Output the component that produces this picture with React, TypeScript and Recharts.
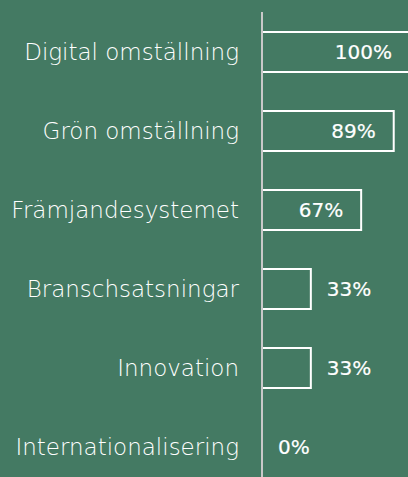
import { Bar, BarChart, Cell, LabelList, XAxis, YAxis } from "recharts";

const categories = [
  "Digital omställning",
  "Grön omställning",
  "Främjandesystemet",
  "Branschsatsningar",
  "Innovation",
  "Internationalisering",
];
const shares = [100, 89, 67, 33, 33, 0];

const data = categories.map((name, i) => ({ name, value: shares[i] }));

const BG = "#447a63";
const FONT = "'DejaVu Sans', sans-serif";

const ValueLabel = (props: any) => {
  const { x, y, width, height, value } = props;
  const inside = value >= 50;
  const w = value > 0 ? width : 0;
  return (
    <text
      x={inside ? x + w - 18 : x + w + 16}
      y={y + height / 2}
      dy="0.36em"
      textAnchor={inside ? "end" : "start"}
      fill="#ffffff"
      stroke="#ffffff"
      strokeWidth={0.2}
      fontFamily={FONT}
      fontSize={20}
    >
      {value}%
    </text>
  );
};

export default function App() {
  return (
    <div
      style={{
        position: "fixed",
        top: 0,
        left: 0,
        width: 408,
        height: 477,
        overflow: "hidden",
        background: BG,
      }}
    >
      <BarChart
        width={410}
        height={490}
        data={data}
        layout="vertical"
        margin={{ top: 12, right: 0, bottom: 4, left: 0 }}
        barCategoryGap={19}
      >
        <XAxis type="number" domain={[0, 100]} hide />
        <YAxis
          type="category"
          dataKey="name"
          width={262}
          axisLine={{ stroke: "#c9c9c9", strokeWidth: 2 }}
          tickLine={false}
          tickSize={0}
          tickMargin={23}
          tick={{
            fill: "#ffffff",
            fontSize: 23,
            fontFamily: FONT,
            fontWeight: 200,
          }}
        />
        <Bar
          dataKey="value"
          fill="none"
          stroke="#ffffff"
          strokeWidth={2}
          barSize={40}
          minPointSize={1}
          isAnimationActive={false}
        >
          {shares.map((v, i) => (
            <Cell key={i} stroke={v > 0 ? "#ffffff" : "none"} />
          ))}
          <LabelList dataKey="value" content={ValueLabel} />
        </Bar>
      </BarChart>
    </div>
  );
}
